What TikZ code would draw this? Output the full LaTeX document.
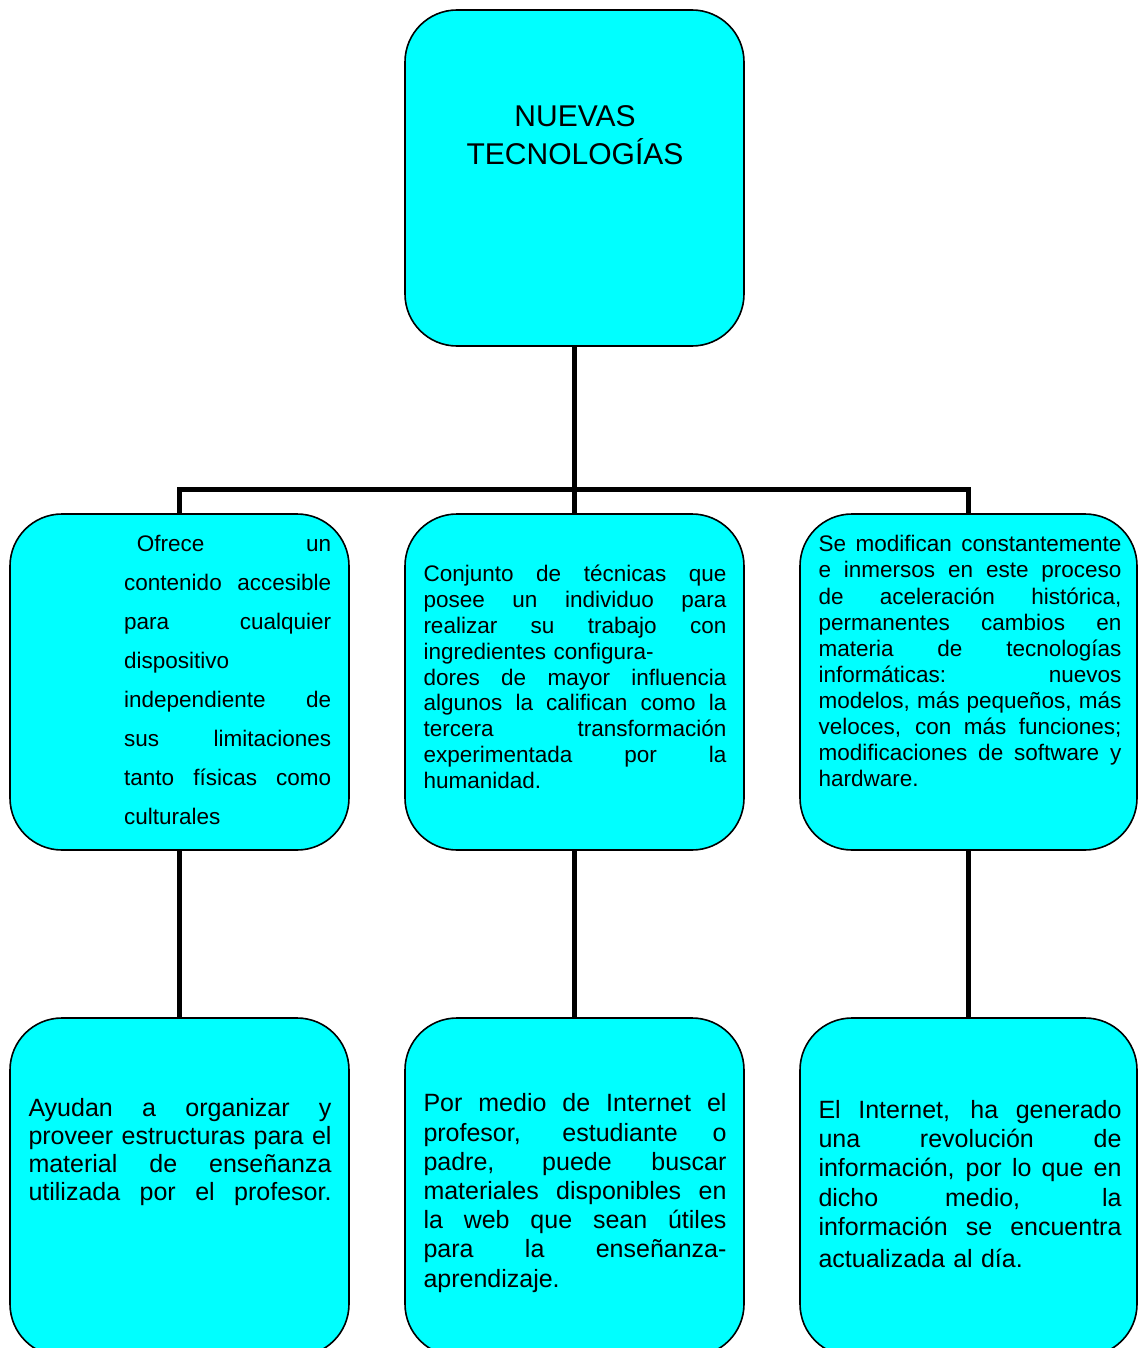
\documentclass[tikz,border=0pt]{standalone}
\usepackage{fontspec}
\setmainfont{Liberation Sans}
\definecolor{boxcyan}{HTML}{00FFFF}
\newcommand{\jx}[2]{\leavevmode\hbox to #1{\spaceskip=0.278em plus 1fil\relax\xspaceskip=\spaceskip #2}}
\newcommand{\jn}[1]{\jx{207pt}{#1}}
\newcommand{\jl}[1]{\jx{303pt}{#1}}
\begin{document}
\begin{tikzpicture}[x=1pt,y=-1pt,
  box/.style={draw=black,line width=1.6pt,fill=boxcyan,rounded corners=52pt,inner sep=0pt,minimum width=339pt,minimum height=336pt},
  conn/.style={line width=5pt,line join=miter,line cap=butt,draw=black},
  txt/.style={anchor=north west,inner sep=0pt,align=left,text width=303pt},
  small/.style={font=\fontsize{22.5}{#1}\selectfont},
  big/.style={font=\fontsize{25}{#1}\selectfont}
]
\useasboundingbox (0,0) rectangle (1138,1348);
\clip (0,0) rectangle (1138,1348);

% boxes
\node[box] (top) at (574.5,178) {};
\node[box] (m1) at (179.5,682) {};
\node[box] (m2) at (574.5,682) {};
\node[box,minimum width=337pt] (m3) at (968.5,682) {};
\node[box,minimum height=338pt] (b1) at (179.5,1187) {};
\node[box,minimum height=338pt] (b2) at (574.5,1187) {};
\node[box,minimum width=337pt,minimum height=338pt] (b3) at (968.5,1187) {};

% connectors
\coordinate (bar) at (0,489);
\draw[conn] (top.south) -- (top.south |- bar);
\draw[conn] (m1.north) -- (m1.north |- bar) -- (m3.north |- bar) -- (m3.north);
\draw[conn] (m2.north) -- (m2.north |- bar);
\draw[conn] (m1.south) -- (b1.north);
\draw[conn] (m2.south) -- (b2.north);
\draw[conn] (m3.south) -- (b3.north);

% texts
\node[anchor=north,inner sep=0pt,text width=320pt,align=center,font=\fontsize{30}{35}\selectfont] (ttitle) at (575,102.2)
 {\strut NUEVAS\\TECNOLOGÍAS};

\node[txt,text width=207pt,small=39] (t1) at (124,524.4)
 {\strut\jn{\hspace*{12.7pt}Ofrece un}\\
  \jn{contenido accesible}\\
  \jn{para cualquier}\\
  dispositivo\\
  \jn{independiente de}\\
  \jn{sus limitaciones}\\
  \jn{tanto físicas como}\\
  culturales};

\node[txt,small=25.8] (t2) at (423.3,563.6)
 {\strut\jl{Conjunto de técnicas que}\\
  \jl{posee un individuo para}\\
  \jl{realizar su trabajo con}\\
  ingredientes configura-\\
  \jl{dores de mayor influencia}\\
  \jl{algunos la califican como la}\\
  \jl{tercera transformación}\\
  \jl{experimentada por la}\\
  humanidad.};

\node[txt,small=26.1] (t3) at (818.3,533.4)
 {\strut\jl{Se modifican constantemente}\\
  \jl{e inmersos en este proceso}\\
  \jl{de aceleración histórica,}\\
  \jl{permanentes cambios en}\\
  \jl{materia de tecnologías}\\
  \jl{informáticas: nuevos}\\
  \jl{modelos, más pequeños, más}\\
  \jl{veloces, con más funciones;}\\
  \jl{modificaciones de software y}\\
  hardware.};

\node[txt,big=27.8] (t4) at (28.3,1097.2)
 {\strut\jl{Ayudan a organizar y}\\
  \jl{proveer estructuras para el}\\
  \jl{material de enseñanza}\\
  \jl{utilizada por el profesor.}};

\node[txt,big=29.2] (t5) at (423.3,1091.3)
 {\strut\jl{Por medio de Internet el}\\
  \jl{profesor, estudiante o}\\
  \jl{padre, puede buscar}\\
  \jl{materiales disponibles en}\\
  \jl{la web que sean útiles}\\
  \jl{para la enseñanza-}\\
  aprendizaje.};

\node[txt,big=29.2] (t6) at (818.3,1097.9)
 {\strut\jl{El Internet, ha generado}\\
  \jl{una revolución de}\\
  \jl{información, por lo que en}\\
  \jl{dicho medio, la}\\
  \jl{información se encuentra}\\[2.5pt]
  actualizada al día.};
\end{tikzpicture}
\end{document}
